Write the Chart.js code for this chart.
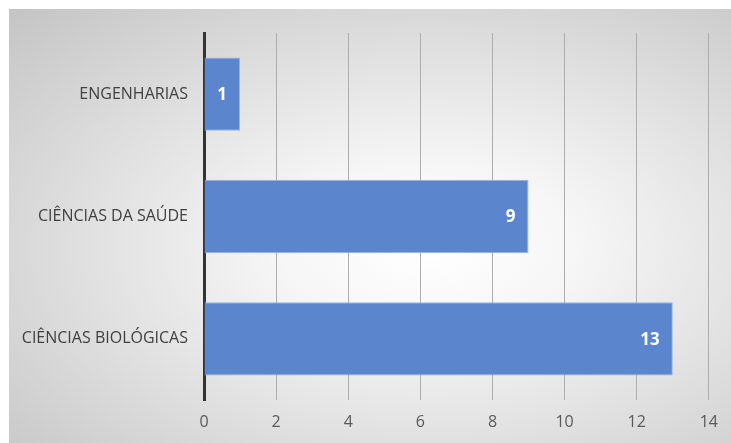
<!DOCTYPE html>
<html>
<head>
<meta charset="utf-8">
<script src="https://cdn.jsdelivr.net/npm/chart.js@4/dist/chart.umd.min.js"></script>
<style>
  html, body { margin:0; padding:0; background:#fff; }
  #wrap { position:relative; width:731px; height:443px; }
  #bg {
    position:absolute; left:9px; top:9px; right:0; bottom:0;
    background: radial-gradient(ellipse farthest-corner at 58% 55%, #ffffff 0%, #f6f6f6 25%, #c4c4c4 100%);
  }
  #chart { position:absolute; left:0; top:0; }
</style>
</head>
<body>
<div id="wrap">
  <div id="bg"></div>
  <canvas id="chart" width="731" height="443"></canvas>
</div>
<script>
  // Chart data
  const areas  = ['ENGENHARIAS', 'CIÊNCIAS DA SAÚDE', 'CIÊNCIAS BIOLÓGICAS'];
  const counts = [1, 9, 13];
  const xTicks = [0, 2, 4, 6, 8, 10, 12, 14];

  const FONT = '"Open Sans", "Noto Sans", sans-serif';

  // Value labels drawn inside the end of each bar
  const barValues = {
    id: 'barValues',
    afterDatasetsDraw(chart) {
      const ctx = chart.ctx;
      const meta = chart.getDatasetMeta(0);
      ctx.save();
      ctx.fillStyle = '#ffffff';
      ctx.font = 'bold 17px ' + FONT;
      ctx.textAlign = 'right';
      ctx.textBaseline = 'middle';
      meta.data.forEach(function(bar, i){
        ctx.fillText(String(counts[i]), bar.x - 13, bar.y + 1);
      });
      ctx.restore();
    }
  };

  const chart = new Chart(document.getElementById('chart'), {
    type: 'bar',
    data: {
      labels: areas,
      datasets: [{
        data: counts,
        backgroundColor: '#5b85cc',
        borderColor: '#98b3e0',
        borderWidth: 1,
        categoryPercentage: 1,
        barPercentage: 0.6
      }]
    },
    options: {
      indexAxis: 'y',
      responsive: false,
      animation: false,
      layout: { padding: { top: 33, right: 21, left: 0, bottom: 0 } },
      plugins: { legend: { display:false }, tooltip: { enabled:false } },
      scales: {
        x: {
          min: 0, max: 14,
          afterBuildTicks: function(scale){ scale.ticks = xTicks.map(v => ({ value:v })); },
          afterFit: function(scale){ scale.height = 43; },
          grid: { color:'#adadad', lineWidth:1, drawTicks:false },
          border: { display:false },
          ticks: { color:'#595959', padding:13, font:{ family:FONT, size:16 } }
        },
        y: {
          afterFit: function(scale){ scale.width = 204; },
          grid: { display:false, drawTicks:false },
          border: { display:true, color:'#333333', width:3 },
          ticks: { color:'#404040', padding:16, font:{ family:FONT, size:16 } }
        }
      }
    },
    plugins: [barValues]
  });
</script>
</body>
</html>
